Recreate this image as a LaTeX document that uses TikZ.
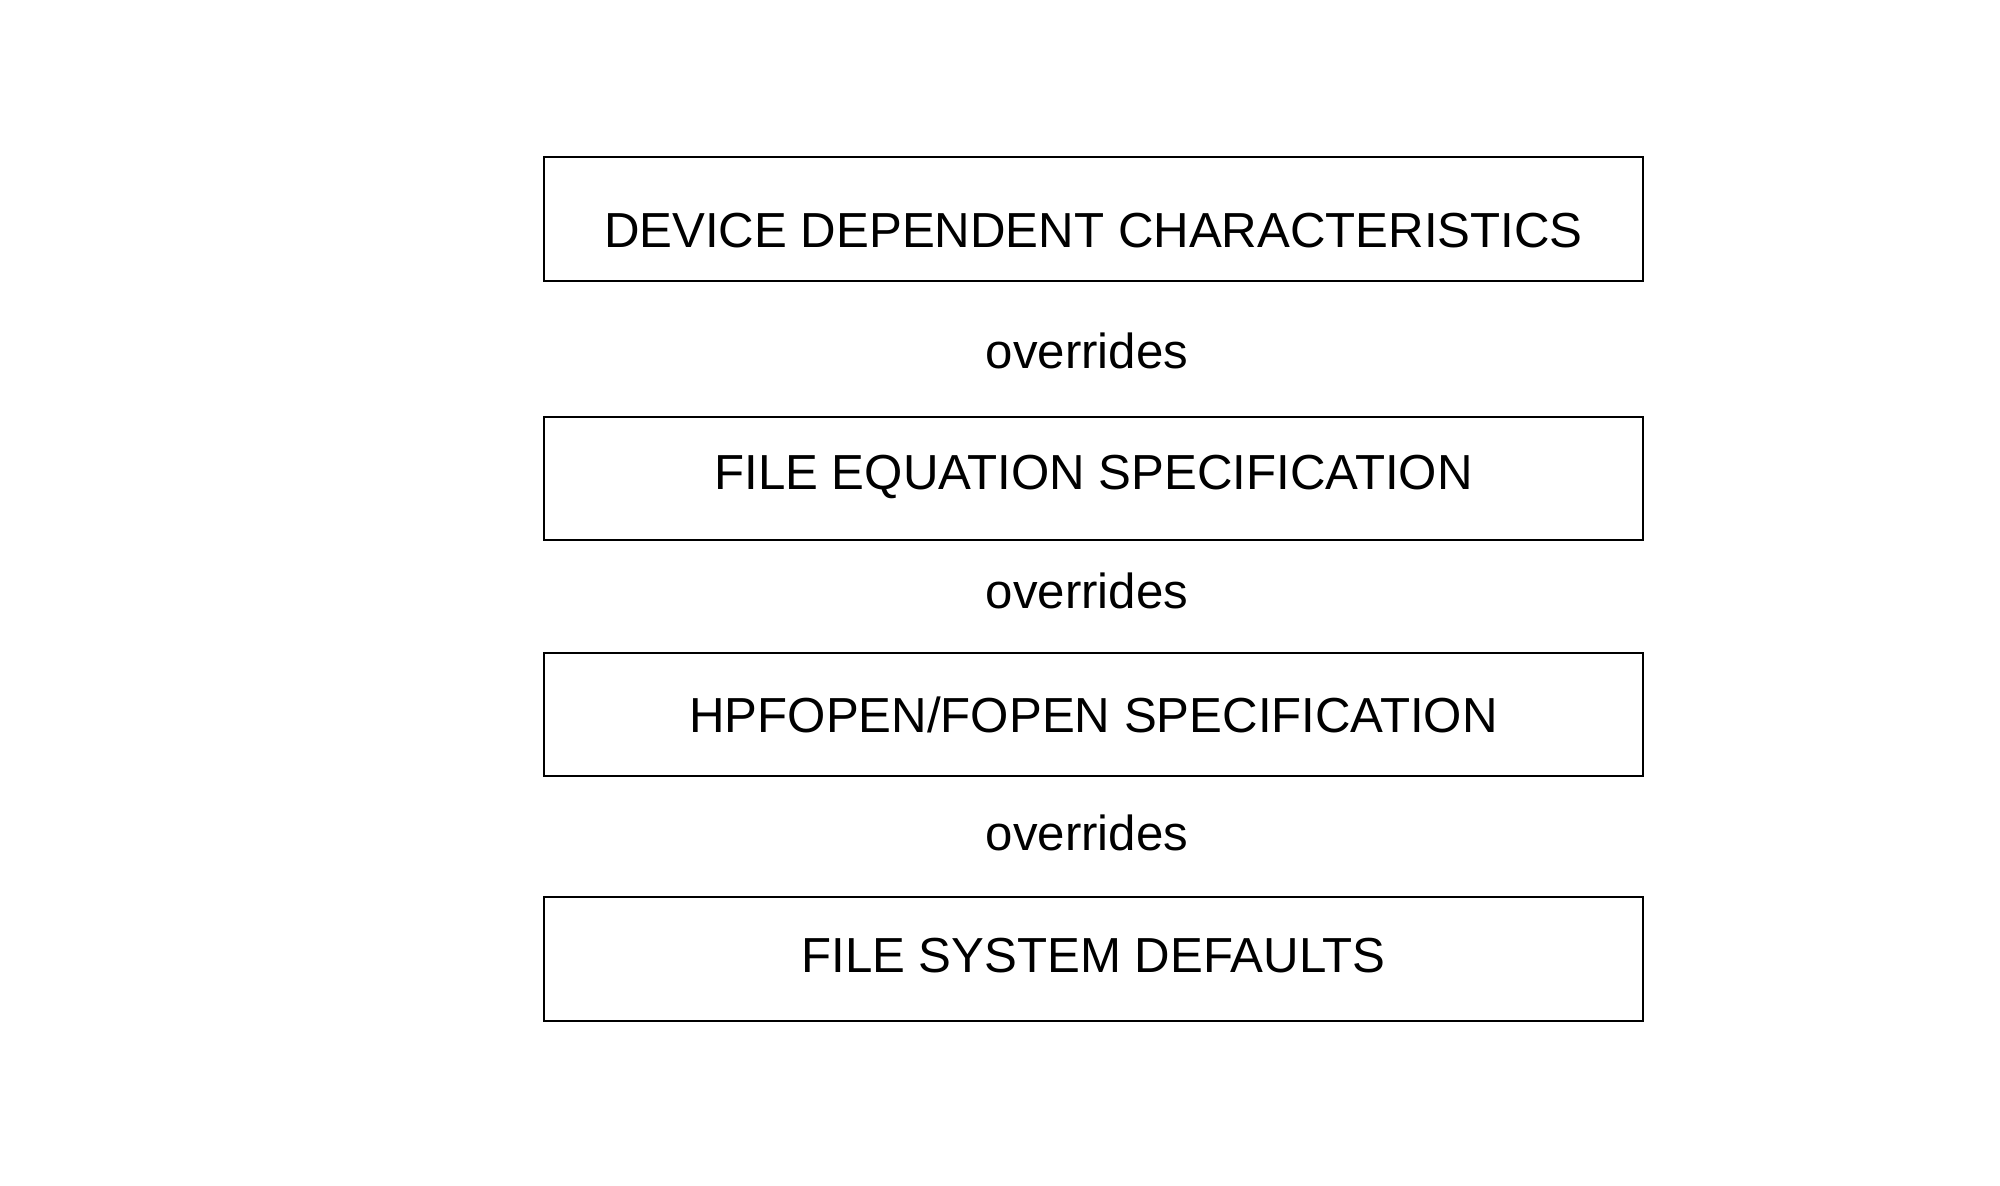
\documentclass[tikz,border=0pt]{standalone}
\usepackage{fontspec}
\setmainfont{Liberation Sans}
\usepackage{tikz}

\begin{document}
\begin{tikzpicture}[x=1cm, y=1cm,
    layer/.style={draw, line width=0.7pt, minimum width=10.985cm, minimum height=1.235cm,
      inner sep=0pt, text height=10pt, text depth=0pt},
    rule/.style={anchor=base}]
  \useasboundingbox (0,0) rectangle (20,11.85);
  \fontsize{14pt}{17pt}\selectfont
  % the four layers, top one wins
  \node[layer] (device) at (10.935,9.66) {\raisebox{-0.105cm}{DEVICE DEPENDENT CHARACTERISTICS}};
  \node[layer] (fileeq) at (10.935,7.065) {\raisebox{0.07cm}{FILE EQUATION SPECIFICATION}};
  \node[layer] (hpfopen) at (10.935,4.705) {HPFOPEN/FOPEN SPECIFICATION};
  \node[layer] (defaults) at (10.935,2.26) {\raisebox{0.045cm}{FILE SYSTEM DEFAULTS}};
  \node[rule] (ovr1) at (10.87,8.17) {overrides};
  \node[rule] (ovr2) at (10.87,5.77) {overrides};
  \node[rule] (ovr3) at (10.87,3.35) {overrides};
\end{tikzpicture}
\end{document}
